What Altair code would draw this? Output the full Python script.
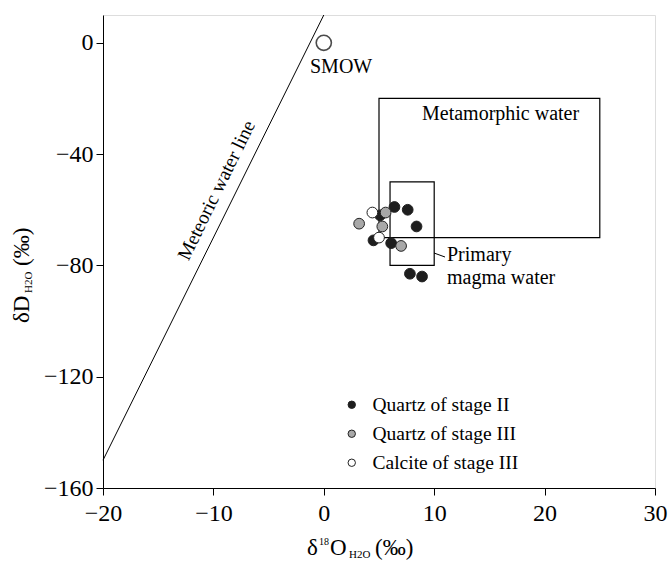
import altair as alt
import pandas as pd

FONT = "Liberation Serif"

# Sample data
q2_x = [6.4, 7.6, 8.4, 5.1, 4.5, 6.1, 7.8, 8.9]
q2_y = [-59, -60, -66, -62, -71, -72, -83, -84]
q3_x = [5.6, 3.2, 5.3, 7.0]
q3_y = [-61, -65, -66, -73]
c3_x = [4.4, 5.0]
c3_y = [-61, -70]
groups = ["Quartz of stage II", "Quartz of stage III", "Calcite of stage III"]
group_fill = ["#1e1e1e", "#a8a8a8", "#ffffff"]

# Reference features
mwl_x = [-20, 0]
mwl_y = [-150, 10]
smow = (0, 0)
meta_box = (5, 25, -70, -20)
magma_box = (6, 10, -80, -50)

pts = pd.DataFrame(
    [{"x": x, "y": y, "g": groups[0]} for x, y in zip(q2_x, q2_y)]
    + [{"x": x, "y": y, "g": groups[1]} for x, y in zip(q3_x, q3_y)]
    + [{"x": x, "y": y, "g": groups[2]} for x, y in zip(c3_x, c3_y)]
)

xs = alt.Scale(domain=[-20, 30], nice=False, zero=False)
ys = alt.Scale(domain=[-160, 10], nice=False, zero=False)

xax = alt.Axis(values=[-20, -10, 0, 10, 20, 30], title=None, grid=False,
               labelFont=FONT, labelFontSize=24, labelColor="black",
               tickColor="black", domainColor="black", tickSize=7, labelPadding=6,
               labelFlush=False)
yax = alt.Axis(values=[0, -40, -80, -120, -160], title=None, grid=False,
               labelFont=FONT, labelFontSize=24, labelColor="black",
               tickColor="black", domainColor="black", tickSize=7, labelPadding=3,
               labelFlush=False)

line = alt.Chart(pd.DataFrame({"x": mwl_x, "y": mwl_y})).mark_line(
    color="black", strokeWidth=1).encode(
    x=alt.X("x:Q", scale=xs, axis=xax), y=alt.Y("y:Q", scale=ys, axis=yax))

boxes = alt.Chart(pd.DataFrame([
    {"x": meta_box[0], "x2": meta_box[1], "y": meta_box[2], "y2": meta_box[3]},
    {"x": magma_box[0], "x2": magma_box[1], "y": magma_box[2], "y2": magma_box[3]},
])).mark_rect(fill=None, fillOpacity=0, stroke="black", strokeWidth=1.2).encode(
    x=alt.X("x:Q", scale=xs), x2="x2", y=alt.Y("y:Q", scale=ys), y2="y2")

smow_pt = alt.Chart(pd.DataFrame({"x": [smow[0]], "y": [smow[1]]})).mark_point(
    shape="circle", size=230, filled=False, color="black", strokeWidth=1.6).encode(
    x=alt.X("x:Q", scale=xs), y=alt.Y("y:Q", scale=ys))

points = alt.Chart(pts).mark_point(shape="circle", size=115, filled=True,
                                   stroke="#222", strokeWidth=1, opacity=1).encode(
    x=alt.X("x:Q", scale=xs), y=alt.Y("y:Q", scale=ys),
    fill=alt.Fill("g:N", scale=alt.Scale(domain=groups, range=group_fill),
                  legend=alt.Legend(title=None, orient="none", legendX=239, legendY=380,
                                    labelFont=FONT, labelFontSize=19.5, labelColor="black",
                                    symbolSize=55, symbolStrokeColor="#222",
                                    symbolStrokeWidth=1, symbolType="circle",
                                    rowPadding=8, labelOffset=11)))

def txt(s, x, y, size=20, angle=0, align="left", baseline="alphabetic"):
    kw = dict(text=s, font=FONT, fontSize=size, color="black", align=align, baseline=baseline)
    if angle:
        kw["angle"] = angle
    return alt.Chart(pd.DataFrame({"a": [0]})).mark_text(**kw).encode(
        x=alt.value(x), y=alt.value(y))

labels = [
    txt("SMOW", 207, 58, 20),
    txt("Metamorphic water", 319, 105, 20),
    txt("Primary", 344, 246, 20),
    txt("magma water", 344, 269, 20),
    txt("Meteoric water line", 119, 178, 19.5, angle=296, align="center"),
    # x axis title
    txt("δ", 204, 540, 23),
    txt("18", 216, 530, 10),
    txt("O", 227, 540, 23),
    txt("H2O", 246, 543, 11),
    txt("(‰)", 272, 540, 23),
    # y axis title (rotated)
    txt("δD", -74, 308, 23, angle=270),
    txt("H2O", -71, 278, 11, angle=270),
    txt("(‰)", -74, 251, 23, angle=270),
]

leader = alt.Chart(pd.DataFrame({"a": [0]})).mark_rule(color="black", strokeWidth=1).encode(
    x=alt.value(331), x2=alt.value(342), y=alt.value(238), y2=alt.value(242))

chart = alt.layer(boxes, line, leader, smow_pt, points, *labels).properties(
    width=552, height=473,
    autosize=alt.AutoSizeParams(type="none"),
    padding={"left": 103, "top": 15, "right": 14, "bottom": 74},
).configure_view(stroke="black", strokeWidth=1.2).configure(background="white")

chart.save("out.html", embed_options={"renderer": "svg", "actions": False})
